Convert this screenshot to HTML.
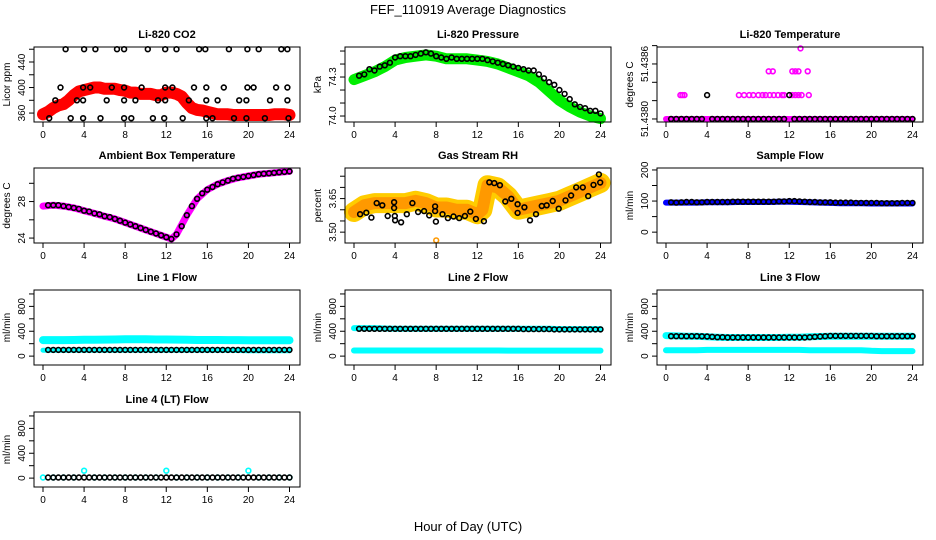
<!DOCTYPE html>
<html><head><meta charset="utf-8"><style>
html,body{margin:0;padding:0;background:#fff;}
svg{display:block;font-family:"Liberation Sans",Arial,sans-serif;}
</style></head><body>
<svg id="c" width="936" height="540" viewBox="0 0 936 540">
<rect width="936" height="540" fill="#fff"/>
<text x="468" y="14" text-anchor="middle" font-size="13">FEF_110919  Average Diagnostics</text>
<text x="468" y="531" text-anchor="middle" font-size="13">Hour of Day (UTC)</text>
</svg>
<script>
// ---- data ----
const xTicks = [0,4,8,12,16,20,24];
const halfT = [0.5,1,1.5,2,2.5,3,3.5,4,4.5,5,5.5,6,6.5,7,7.5,8,8.5,9,9.5,10,10.5,11,11.5,12,12.5,13,13.5,14,14.5,15,15.5,16,16.5,17,17.5,18,18.5,19,19.5,20,20.5,21,21.5,22,22.5,23,23.5,24];
const hourT = [0,1,2,3,4,5,6,7,8,9,10,11,12,13,14,15,16,17,18,19,20,21,22,23,24];
const bandT26 = [0,1,2,3,4,5,6,7,8,9,10,11,12,12.5,13,14,15,16,17,18,19,20,21,22,23,24];

// CO2
const co2RedT = [0,0.5,1,1.5,2,2.5,3,3.5,4,4.5,5,5.5,6,6.5,7,7.5,8,8.5,9,9.5,10,10.5,11,11.5,12,12.5,13,13.5,14,14.5,15,15.5,16,16.5,17,17.5,18,18.5,19,19.5,20,20.5,21,21.5,22,22.5,23,23.5,24];
const co2Red = [358,362,368,372,374,380,388,394,396,398,400,400,398,398,398,396,395,392,392,390,390,390,388,388,392,392,390,386,376,368,365,364,362,360,358,358,358,357,357,357,357,357,357,357,357,358,358,358,357];
const co2BlackT = [2.2,4,5.1,7.2,7.9,10.2,11.9,13,15.2,15.8,18.1,19.9,21,23.2,23.8, 1.7,3.9,4.6,6.7,7.9,9.6,11.9,12.6,14.7,15.9,17.6,19.9,20.5,22.7,23.8, 1.2,3.3,3.9,6.2,7.9,9.0,11.2,11.9,14.2,15.9,17.0,19.1,19.8,22.1,23.8, 0.6,2.7,3.9,5.6,7.9,8.6,10.7,11.8,13.6,15.9,16.5,18.6,19.8,21.6,23.9];
const co2BlackV = [460,460,460,460,460,460,460,460,460,460,460,460,460,460,460, 400,400,400,400,400,400,400,400,400,400,400,400,400,400,400, 380,380,380,380,380,380,380,380,380,380,380,380,380,380,380, 352,352,352,352,352,352,352,352,352,352,352,352,352,352,352];

// Pressure
const presGreen = [74.28,74.31,74.34,74.38,74.43,74.45,74.46,74.47,74.46,74.44,74.44,74.44,74.43,74.42,74.40,74.37,74.34,74.31,74.26,74.19,74.12,74.07,74.03,74.0,73.98];
const presBlack = [74.31,74.32,74.36,74.35,74.38,74.39,74.41,74.45,74.46,74.46,74.46,74.47,74.48,74.49,74.48,74.46,74.45,74.44,74.45,74.44,74.44,74.44,74.44,74.44,74.44,74.43,74.42,74.41,74.40,74.39,74.38,74.37,74.36,74.35,74.35,74.32,74.29,74.26,74.24,74.20,74.17,74.13,74.09,74.07,74.06,74.04,74.04,74.02];

// Li-820 temperature
const tempBase = [51.4380,51.4380,51.4380,51.4380,51.4380,51.4380,51.4380,51.4380,51.4380,51.4380,51.4380,51.4380,51.4380,51.4380,51.4380,51.4380,51.4380,51.4380,51.4380,51.4380,51.4380,51.4380,51.4380,51.4380,51.4380];
const tempBlack = [51.4380,51.4380,51.4380,51.4380,51.4380,51.4380,51.4380,51.43826,51.4380,51.4380,51.4380,51.4380,51.4380,51.4380,51.4380,51.4380,51.4380,51.4380,51.4380,51.4380,51.4380,51.4380,51.4380,51.43826,51.4380,51.4380,51.4380,51.4380,51.4380,51.4380,51.4380,51.4380,51.4380,51.4380,51.4380,51.4380,51.4380,51.4380,51.4380,51.4380,51.4380,51.4380,51.4380,51.4380,51.4380,51.4380,51.4380,51.4380];
const tempMagT = [1.4,1.6,1.8,7.1,7.6,8.1,8.5,9.0,9.4,9.7,10.1,10.5,10.9,11.3,11.5,12.3,12.6,12.9,13.2,13.9, 10,10.4,12.3,12.6,12.9,13.8, 13.1];
const tempMagV = [51.43826,51.43826,51.43826,51.43826,51.43826,51.43826,51.43826,51.43826,51.43826,51.43826,51.43826,51.43826,51.43826,51.43826,51.43826,51.43826,51.43826,51.43826,51.43826,51.43826, 51.43852,51.43852,51.43852,51.43852,51.43852,51.43852, 51.43877];

// Ambient box temperature
const ambBand = [27.5,27.6,27.5,27.3,27.0,26.7,26.4,26.1,25.7,25.3,24.9,24.5,24.1,23.9,24.4,26.5,28.3,29.3,29.9,30.3,30.6,30.8,31.0,31.1,31.2,31.3];
const ambBlack = [27.6,27.6,27.6,27.5,27.4,27.3,27.2,27.0,26.9,26.7,26.6,26.4,26.3,26.1,25.9,25.7,25.5,25.3,25.1,24.9,24.7,24.5,24.3,24.1,23.9,24.4,25.3,26.5,27.5,28.3,28.9,29.3,29.6,29.9,30.1,30.3,30.5,30.6,30.7,30.8,30.9,31.0,31.05,31.1,31.15,31.2,31.25,31.3];

// Gas stream RH
const rhBand = [3.59,3.62,3.63,3.63,3.63,3.63,3.64,3.63,3.61,3.61,3.60,3.60,3.58,3.60,3.71,3.70,3.66,3.60,3.61,3.62,3.63,3.64,3.66,3.68,3.70,3.72];
const rhBlackT = [0.59,1.2,1.69,2.21,2.76,3.28,3.9,3.9,3.97,4.0,4.59,5.14,5.69,6.24,6.83,7.32,7.9,7.9,7.97,8.62,9.14,9.69,10.24,10.8,11.32,11.87,12.65,13.17,13.66,14.21,14.73,15.32,15.93,15.93,16.59,17.14,17.72,18.28,18.76,19.35,19.93,20.59,21.14,21.63,22.28,22.8,23.32,23.84,23.97];
const rhBlackV = [3.580,3.587,3.565,3.630,3.620,3.572,3.634,3.608,3.572,3.553,3.544,3.580,3.630,3.590,3.594,3.575,3.594,3.615,3.547,3.580,3.563,3.570,3.563,3.572,3.592,3.559,3.549,3.723,3.719,3.710,3.637,3.649,3.625,3.586,3.611,3.553,3.580,3.617,3.620,3.639,3.605,3.642,3.664,3.700,3.700,3.661,3.711,3.758,3.722];
const rhOutT = [8.0];
const rhOutV = [3.463];

// Sample flow
const sampBand = [95,95,95,95,96,96,96,97,97,97,97,98,98,97,96,95,94,93,93,93,92,92,92,92,92];
const sampBlack = [96,95,96,97,97,96,96,97,97,97,97,97,98,98,98,98,98,98,98,98,98,99,99,100,100,99,98,97,97,96,96,96,95,95,95,95,94,94,94,94,94,93,93,93,93,94,94,94];

// Line flows
const l1CyanHi = [258,258,258,260,262,264,266,268,270,270,270,268,268,266,262,260,260,260,258,258,256,256,256,256,256];
const l1CyanLo = [95,95,95,95,95,95,95,95,95,95,95,95,95,95,95,95,95,95,95,90,85,85,85,85,85];
const l1Black = [100,100,100,100,100,100,100,100,100,100,100,100,100,100,100,100,100,100,100,100,100,100,100,100,100,100,100,100,100,100,100,100,100,100,100,100,100,100,100,100,100,100,100,100,100,100,100,100];
const l2CyanHi = [450,450,450,445,440,440,440,440,440,440,440,440,440,440,440,440,440,440,440,440,435,435,435,435,435];
const l2CyanLo = [90,90,90,90,90,90,90,90,90,90,90,90,90,90,90,88,88,88,88,88,88,88,88,88,88];
const l2Black = [440,440,440,440,440,440,440,440,440,440,440,440,440,440,440,440,440,440,440,440,440,440,440,440,440,440,440,440,440,440,440,440,435,435,435,435,435,435,430,430,430,430,430,430,430,430,430,430];
const l3CyanHi = [330,325,320,318,310,305,300,300,300,300,300,300,305,305,310,315,320,320,320,320,320,320,320,320,320];
const l3CyanLo = [95,95,95,95,100,100,100,100,100,100,100,100,100,100,95,95,95,95,95,95,85,80,80,80,80];
const l3Black = [320,320,320,320,320,320,318,315,310,305,305,300,300,300,300,300,300,300,300,300,300,300,300,300,300,300,300,305,310,315,320,325,325,325,325,325,325,325,325,325,320,320,320,320,320,320,320,320];
const l4Cyan = [10,10,10,10,120,10,10,10,10,10,10,10,120,10,10,10,10,10,10,10,120,10,10,10,10];
const l4Black = [10,10,10,10,10,10,10,10,10,10,10,10,10,10,10,10,10,10,10,10,10,10,10,10,10,10,10,10,10,10,10,10,10,10,10,10,10,10,10,10,10,10,10,10,10,10,10,10];

const flowTicks = [0,200,400,600,800,1000];
const flowLabels = ["0","","400","","800",""];

// ---- layout ----
const svg = document.getElementById('c');
const NS = 'http://www.w3.org/2000/svg';
const colL = [34,345,657], rowT = [47,168,290,412], BW = 266, BH = 75;
function mk(tag, attrs, parent){const e=document.createElementNS(NS,tag);for(const k in attrs)e.setAttribute(k,attrs[k]);(parent||svg).appendChild(e);return e;}

function panel(p){
  const g = mk('g',{});
  
  
  const L = colL[p.col], T = rowT[p.row];
  const xs = t => L + 9 + t/24*246.5;
  const ys = v => T + BH - (v - p.ymin)/(p.ymax - p.ymin)*BH;
  p.layers.forEach(ly=>{
    if(ly.type==='band'){
      const pl = mk('polyline',{points: ly.t.map((t,i)=>xs(t).toFixed(1)+','+ys(ly.v[i]).toFixed(1)).join(' '), fill:'none', stroke:ly.color, 'stroke-width':ly.w, 'stroke-linejoin':'round','stroke-linecap':'round'}, g);
      
      
    } else {
      ly.t.forEach((t,i)=>{
        const c = mk('circle',{cx:xs(t).toFixed(1), cy:ys(ly.v[i]).toFixed(1), r:ly.r||2.4, fill:'none', stroke:ly.color, 'stroke-width':ly.sw||1.6}, g);
        
        
      });
    }
  });
  const box = mk('rect',{x:L,y:T,width:BW,height:BH,fill:'none',stroke:'#000','stroke-width':1},g);
  
  
  mk('line',{x1:xs(0),x2:xs(24),y1:T+BH,y2:T+BH,stroke:'#000'},g);
  xTicks.forEach(t=>{
    mk('line',{x1:xs(t),x2:xs(t),y1:T+BH,y2:T+BH+5,stroke:'#000'},g);
    const tx = mk('text',{x:xs(t),y:T+BH+16,'text-anchor':'middle','font-size':10},g);
    tx.textContent = t;
    
    
  });
  mk('line',{x1:L,x2:L,y1:ys(p.ticks[0]),y2:ys(p.ticks[p.ticks.length-1]),stroke:'#000'},g);
  p.ticks.forEach((v,i)=>{
    const y = ys(v);
    mk('line',{x1:L-5,x2:L,y1:y,y2:y,stroke:'#000'},g);
    if(p.labels[i]){
      const tx = mk('text',{x:L-9,y:y,'text-anchor':'middle','font-size':10,transform:`rotate(-90 ${L-9} ${y})`},g);
      tx.textContent = p.labels[i];
      
      
    }
  });
  const yt = mk('text',{x:L-24,y:T+BH/2,'text-anchor':'middle','font-size':10,transform:`rotate(-90 ${L-24} ${T+BH/2})`},g);
  yt.textContent = p.ylab;
  
  
  const ti = mk('text',{x:L+BW/2,y:T-9,'text-anchor':'middle','font-size':11,'font-weight':'bold'},g);
  ti.textContent = p.title;
  
  
}

const K='#000', CY='#00ffff';
panel({name:'co2-panel',col:0,row:0,title:'Li-820 CO2',ylab:'Licor ppm',ymin:346,ymax:463.5,ticks:[360,380,400,420,440,460],labels:['360','','400','','440',''],
  layers:[{type:'band',t:co2RedT,v:co2Red,color:'#ff0000',w:12,name:'co2-red-series'},{type:'pts',t:co2RedT,v:co2Red,color:'#ff0000',name:'co2-red-point'},{type:'pts',t:co2BlackT,v:co2BlackV,color:K,name:'co2-black-point'}]});
panel({name:'pressure-panel',col:1,row:0,title:'Li-820 Pressure',ylab:'kPa',ymin:73.954,ymax:74.531,ticks:[74.0,74.1,74.2,74.3,74.4,74.5],labels:['74.0','','','74.3','',''],
  layers:[{type:'band',t:hourT,v:presGreen,color:'#00ee00',w:11,name:'pressure-green-series'},{type:'pts',t:halfT,v:presBlack,color:K,name:'pressure-black-point'}]});
panel({name:'li820-temp-panel',col:2,row:0,title:'Li-820 Temperature',ylab:'degrees C',ymin:51.437967,ymax:51.438785,ticks:[51.4380,51.4382,51.4384,51.4386,51.4388],labels:['51.4380','','','51.4386',''],
  layers:[{type:'band',t:hourT,v:tempBase,color:'#ff00ff',w:6,name:'temp-magenta-series'},{type:'pts',t:tempMagT,v:tempMagV,color:'#ff00ff',name:'temp-magenta-point'},{type:'pts',t:halfT,v:tempBlack,color:K,name:'temp-black-point'}]});
panel({name:'ambient-temp-panel',col:0,row:1,title:'Ambient Box Temperature',ylab:'degrees C',ymin:23.46,ymax:31.676,ticks:[24,26,28,30],labels:['24','','28',''],
  layers:[{type:'band',t:bandT26,v:ambBand,color:'#ff00ff',w:7,name:'ambient-magenta-series'},{type:'pts',t:halfT,v:ambBlack,color:K,name:'ambient-black-point'}]});
panel({name:'rh-panel',col:1,row:1,title:'Gas Stream RH',ylab:'percent',ymin:3.4515,ymax:3.7867,ticks:[3.50,3.55,3.60,3.65,3.70,3.75],labels:['3.50','','','3.65','',''],
  layers:[{type:'band',t:bandT26,v:rhBand,color:'#ffcc00',w:20,name:'rh-yellow-series'},{type:'band',t:bandT26,v:rhBand,color:'#ff9900',w:12,name:'rh-orange-series'},{type:'pts',t:rhOutT,v:rhOutV,color:'#ff9900',name:'rh-outlier'},{type:'pts',t:rhBlackT,v:rhBlackV,color:K,name:'rh-black-point'}]});
panel({name:'sample-flow-panel',col:2,row:1,title:'Sample Flow',ylab:'ml/min',ymin:-34.9,ymax:206.3,ticks:[0,50,100,150,200],labels:['0','','100','','200'],
  layers:[{type:'band',t:hourT,v:sampBand,color:'#0000ff',w:6,name:'sample-blue-series'},{type:'pts',t:halfT,v:sampBlack,color:K,name:'sample-black-point'}]});
const fl={ymin:-142.9,ymax:1063.5,ticks:flowTicks,labels:flowLabels,ylab:'ml/min'};
panel(Object.assign({name:'line1-flow-panel',col:0,row:2,title:'Line 1 Flow',layers:[{type:'band',t:hourT,v:l1CyanHi,color:CY,w:8,name:'line1-cyan-high'},{type:'band',t:hourT,v:l1CyanLo,color:CY,w:5,name:'line1-cyan-low'},{type:'pts',t:halfT,v:l1Black,color:K,name:'line1-black-point'}]},fl));
panel(Object.assign({name:'line2-flow-panel',col:1,row:2,title:'Line 2 Flow',layers:[{type:'band',t:hourT,v:l2CyanHi,color:CY,w:6,name:'line2-cyan-high'},{type:'band',t:hourT,v:l2CyanLo,color:CY,w:6,name:'line2-cyan-low'},{type:'pts',t:halfT,v:l2Black,color:K,name:'line2-black-point'}]},fl));
panel(Object.assign({name:'line3-flow-panel',col:2,row:2,title:'Line 3 Flow',layers:[{type:'band',t:hourT,v:l3CyanHi,color:CY,w:7,name:'line3-cyan-high'},{type:'band',t:hourT,v:l3CyanLo,color:CY,w:6,name:'line3-cyan-low'},{type:'pts',t:halfT,v:l3Black,color:K,name:'line3-black-point'}]},fl));
panel(Object.assign({name:'line4-flow-panel',col:0,row:3,title:'Line 4 (LT) Flow',layers:[{type:'pts',t:hourT,v:l4Cyan,color:CY,name:'line4-cyan-point'},{type:'pts',t:halfT,v:l4Black,color:K,name:'line4-black-point'}]},fl));
</script>
</body></html>
